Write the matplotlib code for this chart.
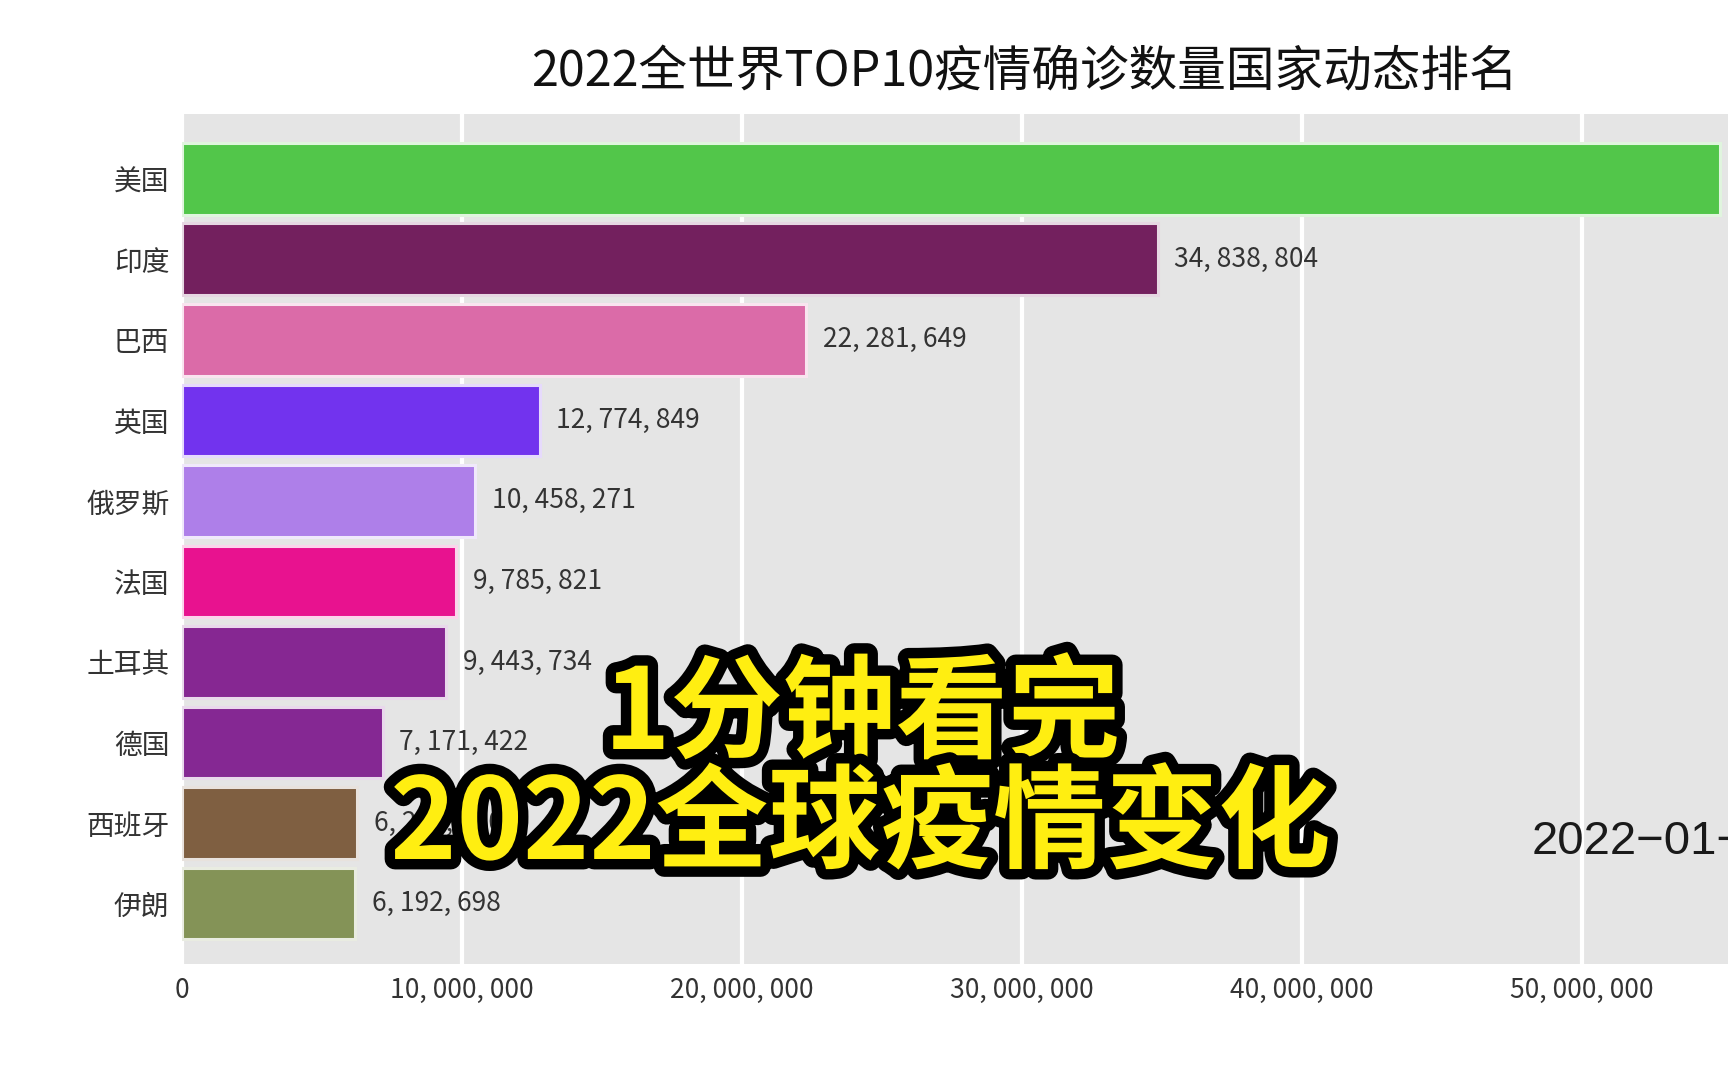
import matplotlib
matplotlib.use("Agg")
import matplotlib.pyplot as plt
import matplotlib.patheffects as pe
from matplotlib.colors import to_rgb
from matplotlib.ticker import FuncFormatter, MultipleLocator

plt.rcParams['font.family'] = ['Noto Sans CJK SC', 'DejaVu Sans']

countries = ["美国", "印度", "巴西", "英国", "俄罗斯", "法国", "土耳其", "德国", "西班牙", "伊朗"]
cases = [54920000, 34838804, 22281649, 12774849, 10458271, 9785821, 9443734, 7171422, 6254000, 6192698]
colors = ["#52C64A", "#73205E", "#DB6BA8", "#7233EE", "#AE7FE9", "#E8128F", "#862792", "#852893", "#7F5F41", "#849357"]
xticks = [0, 10000000, 20000000, 30000000, 40000000, 50000000]
title = "2022全世界TOP10疫情确诊数量国家动态排名"
date_label = "2022−01−01"
overlay1 = "1分钟看完"
overlay2 = "2022全球疫情变化"

fig = plt.figure(figsize=(17.28, 10.8), dpi=100)
fig.patch.set_facecolor("white")
ax = fig.add_axes([0.1053, 0.1074, 0.94, 0.7875])
ax.set_facecolor("#E5E5E5")

n = len(countries)
ypos = [n - 1 - i for i in range(n)]

def tint(c, f=0.6):
    r, g, b = to_rgb(c)
    return (r + (1 - r) * f, g + (1 - g) * f, b + (1 - b) * f)

ax.set_xlim(0, 58000000)
ax.set_ylim(-0.75, 9.81)
ax.xaxis.set_major_locator(MultipleLocator(10000000))
ax.grid(axis='x', color='white', linewidth=3, zorder=0)
ax.set_axisbelow(True)

for y, v, c in zip(ypos, cases, colors):
    ax.barh(y, v, height=0.89, color=c, edgecolor=tint(c, 0.82), linewidth=2.2, zorder=2)
    ax.annotate(f"{v:,}".replace(",", ", "), (v, y), xytext=(12, 0), textcoords='offset points',
                va='center', ha='left', fontsize=19, color='#333333', zorder=3)

ax.set_yticks(ypos)
ax.set_yticklabels(countries, fontsize=20, color='#333333')
ax.set_xticks(xticks)
ax.xaxis.set_major_formatter(FuncFormatter(lambda x, p: f"{int(x):,}".replace(",", ", ")))
ax.tick_params(axis='x', length=0, pad=9, labelsize=19, labelcolor='#333333')
ax.tick_params(axis='y', length=0, pad=9)
for s in ax.spines.values():
    s.set_visible(False)

fig.text(0.593, 0.933, title, ha='center', va='center', fontsize=35, color='#111111')

fig.text(0.8866, 0.220, date_label, ha='left', va='center', fontsize=34,
         color='#1a1a1a', family=['Liberation Sans', 'DejaVu Sans'])

stroke = [pe.Stroke(linewidth=15, foreground='black'), pe.Normal()]
fig.text(0.499, 1 - 716 / 1080, overlay1, ha='center', va='center', fontsize=81,
         fontweight='black', color='#FFEE11', path_effects=stroke)
fig.text(0.498, 1 - 826 / 1080, overlay2, ha='center', va='center', fontsize=81,
         fontweight='black', color='#FFEE11', path_effects=stroke)

fig.savefig("out.png", dpi=100)
